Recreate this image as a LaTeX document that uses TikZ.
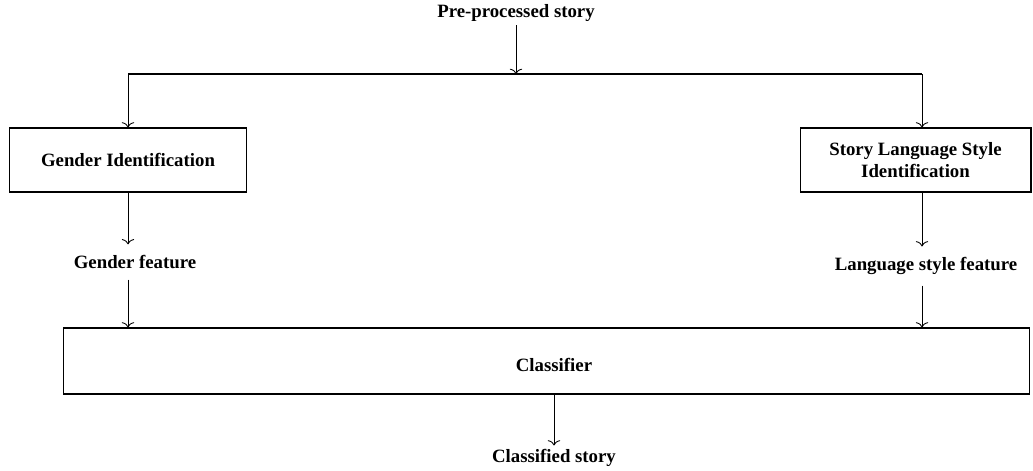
\documentclass[tikz,border=0pt]{standalone}
\usepackage{fontspec}
\setmainfont{Liberation Serif}
\usetikzlibrary{positioning,calc,arrows.meta}

\begin{document}
\begin{tikzpicture}[
      x=0.02cm, y=-0.02cm,
      every node/.style={font=\bfseries\fontsize{10.7}{12.5}\selectfont, align=center},
      stagebox/.style={draw, line width=0.6pt, inner sep=0pt},
      txt/.style={inner sep=2pt},
      flow/.style={-{To[length=3pt,width=7pt]}, line width=0.5pt}
    ]
      \useasboundingbox (0,0) rectangle (1033,470);
      % input
      \node[txt] (pre) at (516,13) {Pre-processed story};
      \coordinate (split) at (516,74);
      \coordinate (sl) at (128,74);
      \coordinate (sr) at (922,74);
      % feature extraction
      \node[stagebox, minimum width=4.74cm, minimum height=1.28cm] (gid) at (128,160) {Gender Identification};
      \node[stagebox, minimum width=4.62cm, minimum height=1.28cm] (lid) at (915.5,160) {Story Language Style\\Identification};
      \node[txt, inner sep=6pt] (gfeat) at (135,262) {Gender feature};
      \node[txt, inner sep=6pt] (lfeat) at (926,266) {Language style feature};
      % classification
      \node[stagebox, minimum width=19.34cm, minimum height=1.32cm] (clf) at (546.5,361) {};
      \node[txt] (clft) at (554,365) {Classifier};
      \node[txt] (out) at (554,458) {Classified story};
      \draw[flow] (pre) -- (split);
      \draw[line width=0.6pt] (sl) -- (sr);
      \draw[flow] (sl) -- (gid.north);
      \draw[flow] (sr) -- (sr |- lid.north);
      \draw[flow] (gid.south) -- (gid.south |- gfeat.north);
      \draw[flow] (sr |- lid.south) -- (sr |- lfeat.north);
      \draw[flow] (gid.south |- gfeat.south) -- (gid.south |- clf.north);
      \draw[flow] (sr |- lfeat.south) -- (sr |- clf.north);
      \draw[flow] (clft |- clf.south) -- (out);
    \end{tikzpicture}
\end{document}
